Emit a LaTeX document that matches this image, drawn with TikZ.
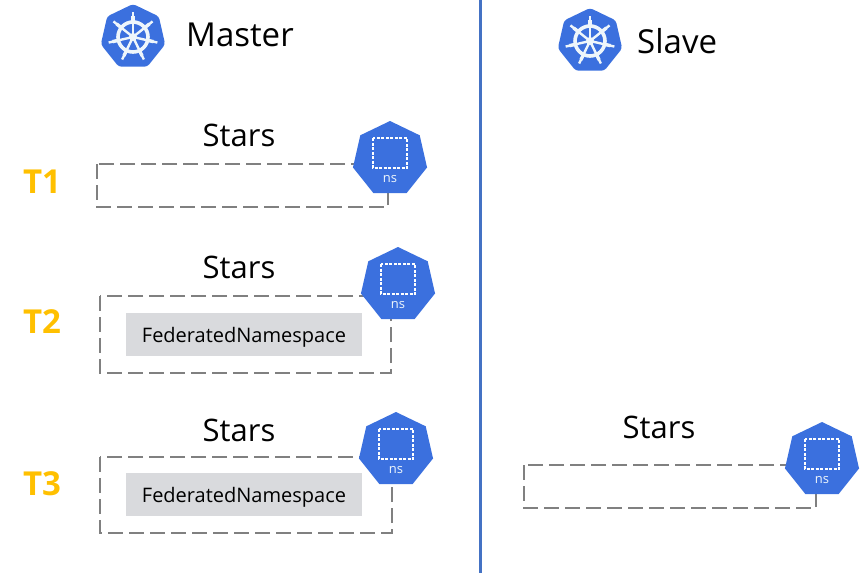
\documentclass[tikz,border=0pt]{standalone}
\usepackage{fontspec}
\setmainfont{Open Sans}
\usetikzlibrary{shapes.geometric}

\definecolor{kubeblue}{HTML}{3B70DE}
\definecolor{wheelwhite}{HTML}{EEF6FB}
\definecolor{boxgray}{HTML}{808080}
\definecolor{fedgray}{HTML}{D9DADD}
\definecolor{timegold}{HTML}{FFC000}
\definecolor{linkblue}{HTML}{4472C4}

\tikzset{
  hept/.style={regular polygon, regular polygon sides=7, fill=kubeblue,
    draw=none, inner sep=0pt, outer sep=0pt},
  title/.style={font=\fontsize{33}{36}\selectfont, text=black, inner sep=0pt, anchor=west},
  stars/.style={font=\fontsize{31}{36}\selectfont, text=black, inner sep=0pt},
  timelabel/.style={font=\fontsize{33}{34}\selectfont\bfseries, text=timegold, inner sep=0pt},
  dashbox/.style={draw=boxgray, line width=2.4pt, dash pattern=on 15pt off 6pt},
  fedbox/.style={fill=fedgray, text=black, inner sep=0pt, minimum width=236pt,
    minimum height=43pt, text height=17pt, text depth=2pt, font=\fontsize{20}{24}\selectfont},
  nslabel/.style={text=wheelwhite, font=\fontsize{13}{14}\selectfont, inner sep=0pt},
}

\begin{document}
\begin{tikzpicture}[x=1pt, y=-1pt]
    \useasboundingbox (0,0) rectangle (861,575);

    % the line between both clusters
    \coordinate (linetop) at (480,0);
    \coordinate (linebottom) at (480,573);
    \draw[linkblue, line width=3pt] (linetop) -- (linebottom);

    % dashed boxes
    \draw[dashbox] (97,164) rectangle (388,207);
    \draw[dashbox] (100,296) rectangle (391,373);
    \draw[dashbox] (100,457) rectangle (392,533);
    \draw[dashbox] (524,465) rectangle (816,508);

    % cluster logos
    \foreach \name/\x/\y in {master/133/37, slave/590/41}{
      \node[hept, minimum size=66pt, rounded corners=3pt] (\name) at (\x,\y) {};
      \draw[wheelwhite, line width=3.6pt] (\name.center) circle (15pt);
      \fill[wheelwhite] (\name.center) circle (4pt);
      \fill[kubeblue] (\name.center) circle (1.5pt);
      \foreach \a in {0,...,6}{
        \draw[wheelwhite, line width=2.4pt]
        (\name.center) -- ++(-90+\a*360/7:25);
        \draw[wheelwhite, line width=3.4pt]
        (\name.center) ++(-90+\a*360/7:16) -- ++(-90+\a*360/7:5);
      }
    }

    \node[title] (mastertext) at (186,35) {Master};
    \node[title] (slavetext) at (637,41) {Slave};

    % namespaces
    \foreach \i/\x/\y in {1/390/159, 2/398/285, 3/396/450, 4/822/460}{
      \node[hept, minimum size=76pt] (ns\i) at (\x,\y) {};
      \draw[white, line width=1.5pt, dash pattern=on 3pt off 1.5pt]
      (ns\i.center) ++(-17,-21) rectangle ++(34,30);
      \node[nslabel] (nstext\i) at (\x,\y+20) {ns};
    }

    \node[stars] (stars1) at (239,135) {Stars};
    \node[stars] (stars2) at (239,267) {Stars};
    \node[stars] (stars3) at (239,430) {Stars};
    \node[stars] (stars4) at (659,427) {Stars};

    \node[timelabel] (t1) at (42,182) {T1};
    \node[timelabel] (t2) at (42,322) {T2};
    \node[timelabel] (t3) at (42,483.5) {T3};

    \node[fedbox] (fed1) at (244,334.5) {FederatedNamespace};
    \node[fedbox] (fed2) at (244,494.5) {FederatedNamespace};
 \end{tikzpicture}
\end{document}
